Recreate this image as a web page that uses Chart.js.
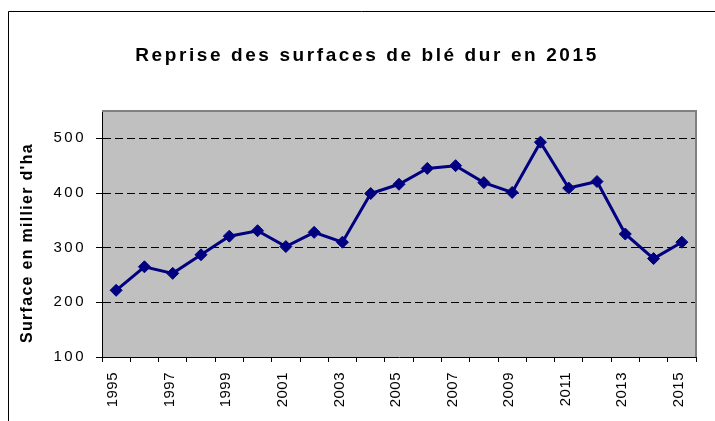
<!DOCTYPE html>
<html>
<head>
<meta charset="utf-8">
<title>Reprise des surfaces de blé dur en 2015</title>
<script src="https://cdn.jsdelivr.net/npm/chart.js@4.4.1/dist/chart.umd.min.js"></script>
<style>
  html, body { margin: 0; padding: 0; background: #fff; }
  #chart { display: block; }
</style>
</head>
<body>
<canvas id="chart" width="715" height="421"></canvas>
<script>
// data
const years = ['1995', '1996', '1997', '1998', '1999', '2000', '2001', '2002', '2003', '2004', '2005',
               '2006', '2007', '2008', '2009', '2010', '2011', '2012', '2013', '2014', '2015'];
const surfaces = [222, 265, 253, 287, 321, 331, 302, 328, 310, 399, 416,
                  445, 450, 419, 401, 493, 409, 421, 325, 280, 310];
const yearLabels = ['1995', '1997', '1999', '2001', '2003', '2005', '2007', '2009', '2011', '2013', '2015'];
const yTicks = [100, 200, 300, 400, 500];

const FONT = "Arial, 'Liberation Sans', sans-serif";

// Chart.js has no letter-spacing option, so wrap the draw calls
function spaced(obj, name, spacing, dx, dy) {
    if (!obj || obj['_spaced_' + name]) return;
    const orig = obj[name];
    obj[name] = function (...args) {
        const ctx = this.ctx;
        ctx.save();
        ctx.translate(dx || 0, dy || 0);
        ctx.letterSpacing = spacing;
        orig.apply(this, args);
        ctx.restore();
    };
    obj['_spaced_' + name] = true;
}

const frame = {
    id: 'frame',
    beforeDraw(chart) {
        const { ctx, chartArea: a } = chart;
        ctx.save();
        ctx.fillStyle = '#c0c0c0';
        ctx.fillRect(a.left, a.top, a.right - a.left, a.bottom - a.top);
        ctx.strokeStyle = '#000';
        ctx.lineWidth = 1;
        ctx.beginPath();
        ctx.moveTo(8.5, 421);
        ctx.lineTo(8.5, 11.5);
        ctx.lineTo(715, 11.5);
        ctx.stroke();
        ctx.restore();

        spaced(chart.titleBlock, 'draw', '2.6px', 10, 0);
        spaced(chart.scales.y, 'drawLabels', '2.5px');
        spaced(chart.scales.y, 'drawTitle', '1.3px', 0, 9);
        spaced(chart.scales.x, 'drawLabels', '0.5px');
    },
    beforeDatasetsDraw(chart) {
        const { ctx, chartArea: a } = chart;
        ctx.save();
        ctx.strokeStyle = '#808080';
        ctx.lineWidth = 2;
        ctx.beginPath();
        ctx.moveTo(a.left, a.top);
        ctx.lineTo(a.right, a.top);
        ctx.lineTo(a.right, a.bottom);
        ctx.stroke();
        ctx.restore();
    }
};

new Chart(document.getElementById('chart'), {
    type: 'line',
    data: {
        labels: years,
        datasets: [{
            data: surfaces,
            borderColor: '#000080',
            borderWidth: 3,
            tension: 0,
            pointStyle: 'rectRot',
            pointRadius: 6,
            pointBorderWidth: 1,
            pointBackgroundColor: '#000080',
            pointBorderColor: '#000080'
        }]
    },
    options: {
        responsive: false,
        animation: false,
        events: [],
        layout: { padding: { left: 18, right: 19, top: 0, bottom: 0 } },
        plugins: {
            legend: { display: false },
            tooltip: { enabled: false },
            title: {
                display: true,
                text: 'Reprise des surfaces de blé dur en 2015',
                color: '#000',
                font: { family: FONT, size: 19, weight: 'bold', lineHeight: 1.2 },
                padding: { top: 44.6, bottom: 43.6 }
            }
        },
        scales: {
            x: {
                offset: true,
                grid: {
                    offset: true,
                    drawOnChartArea: false,
                    drawTicks: true,
                    tickLength: 5,
                    tickColor: '#000'
                },
                border: { color: '#000', width: 1 },
                ticks: {
                    autoSkip: false,
                    maxRotation: 90,
                    minRotation: 90,
                    padding: 10,
                    labelOffset: -3,
                    color: '#000',
                    font: { family: FONT, size: 15 },
                    callback: (v, i) => yearLabels.includes(years[i]) ? years[i] : ''
                },
                afterFit: s => { s.height = 64; }
            },
            y: {
                min: 100,
                max: 550,
                afterBuildTicks: s => { s.ticks = yTicks.map(v => ({ value: v })); },
                grid: {
                    color: '#000',
                    lineWidth: 1,
                    drawTicks: true,
                    tickLength: 6,
                    tickColor: '#000'
                },
                border: { color: '#000', width: 1, dash: [8, 4] },
                ticks: {
                    padding: 10,
                    color: '#000',
                    font: { family: FONT, size: 15 }
                },
                title: {
                    display: true,
                    text: "Surface en millier d'ha",
                    color: '#000',
                    font: { family: FONT, size: 16, weight: 'bold', lineHeight: 1.2 },
                    padding: { top: 0, bottom: 0 }
                },
                afterFit: s => { s.width = 84; }
            }
        }
    },
    plugins: [frame]
});
</script>
</body>
</html>
